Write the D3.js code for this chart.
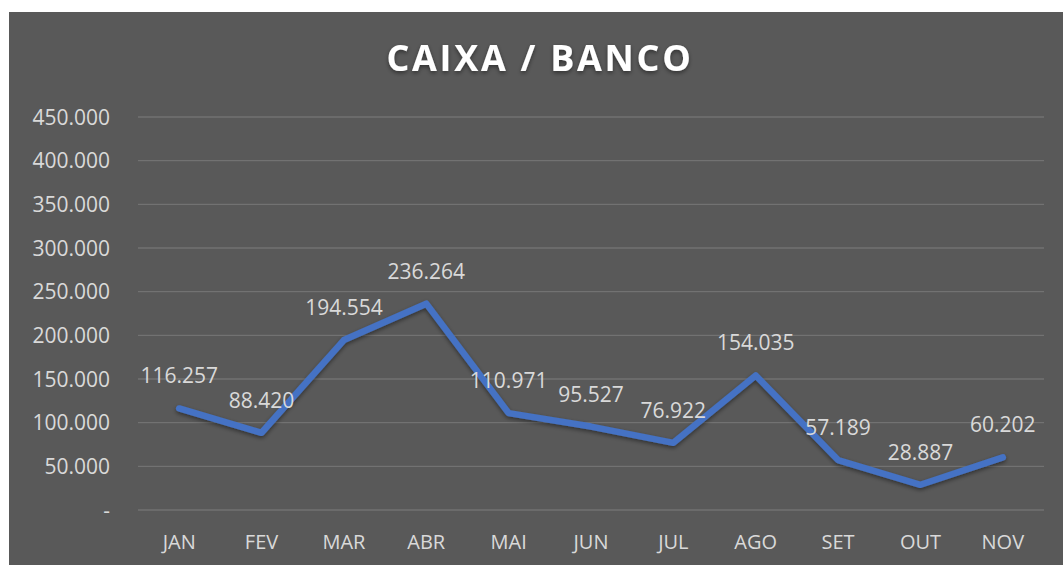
<!DOCTYPE html>
<html>
<head>
<meta charset="utf-8">
<script src="https://cdn.jsdelivr.net/npm/d3@7"></script>
<style>
  body { margin: 0; background: #ffffff; }
  text { font-family: "Open Sans", sans-serif; }
</style>
</head>
<body>
<div id="chart"></div>
<script>
const months = ['JAN', 'FEV', 'MAR', 'ABR', 'MAI', 'JUN', 'JUL', 'AGO', 'SET', 'OUT', 'NOV'];
const values = [116257, 88420, 194554, 236264, 110971, 95527, 76922, 154035, 57189, 28887, 60202];
const yTicks = [0, 50000, 100000, 150000, 200000, 250000, 300000, 350000, 400000, 450000];

const W = 1063, H = 565;
const margin = { top: 117, right: 19, bottom: 55, left: 138 };

const svg = d3.select('#chart').append('svg')
  .attr('width', W)
  .attr('height', H);

const defs = svg.append('defs');
const shadow = defs.append('filter').attr('id', 'shadow')
  .attr('x', '-10%').attr('y', '-10%').attr('width', '120%').attr('height', '130%');
shadow.append('feDropShadow')
  .attr('dx', 0).attr('dy', 2).attr('stdDeviation', 2)
  .attr('flood-color', '#000').attr('flood-opacity', 0.45);

// chart background
svg.append('rect')
  .attr('x', 9).attr('y', 12)
  .attr('width', W - 9).attr('height', H - 12)
  .style('fill', '#595959');

const x = d3.scaleBand()
  .domain(months)
  .range([margin.left, W - margin.right]);

const y = d3.scaleLinear()
  .domain([0, 450000])
  .range([H - margin.bottom, margin.top]);

const fmt = (v) => v === 0 ? '-' : d3.format(',')(v).replace(/,/g, '.');

// gridlines
svg.append('g')
  .selectAll('line')
  .data(yTicks)
  .enter()
  .append('line')
  .attr('x1', margin.left)
  .attr('x2', W - margin.right)
  .attr('y1', (d) => y(d))
  .attr('y2', (d) => y(d))
  .style('stroke', '#727272')
  .style('stroke-width', 1.3);

// y labels
svg.append('g')
  .selectAll('text')
  .data(yTicks)
  .enter()
  .append('text')
  .attr('x', 110)
  .attr('y', (d) => y(d) + 7.5)
  .attr('text-anchor', 'end')
  .attr('font-size', 21)
  .style('fill', '#d9d9d9')
  .text((d) => fmt(d));

// x labels
svg.append('g')
  .selectAll('text')
  .data(months)
  .enter()
  .append('text')
  .attr('x', (d) => x(d) + x.bandwidth() / 2)
  .attr('y', 549)
  .attr('text-anchor', 'middle')
  .attr('font-size', 20)
  .style('fill', '#d9d9d9')
  .text((d) => d);

// line
const line = d3.line()
  .x((d, i) => x(months[i]) + x.bandwidth() / 2)
  .y((d) => y(d));

svg.append('path')
  .datum(values)
  .attr('d', line)
  .style('fill', 'none')
  .style('stroke', '#4472c4')
  .style('stroke-width', 6.5)
  .style('stroke-linejoin', 'round')
  .style('stroke-linecap', 'round')
  .attr('filter', 'url(#shadow)');

// data labels
svg.append('g')
  .selectAll('text')
  .data(values)
  .enter()
  .append('text')
  .attr('x', (d, i) => x(months[i]) + x.bandwidth() / 2)
  .attr('y', (d) => y(d) - 25)
  .attr('text-anchor', 'middle')
  .attr('font-size', 21)
  .style('fill', '#d9d9d9')
  .text((d) => fmt(d));

// title
svg.append('text')
  .attr('x', 540)
  .attr('y', 71)
  .attr('text-anchor', 'middle')
  .attr('font-size', 36)
  .attr('font-weight', 'bold')
  .attr('letter-spacing', 2.7)
  .attr('filter', 'url(#shadow)')
  .style('fill', '#ffffff')
  .text('CAIXA / BANCO');
</script>
</body>
</html>
